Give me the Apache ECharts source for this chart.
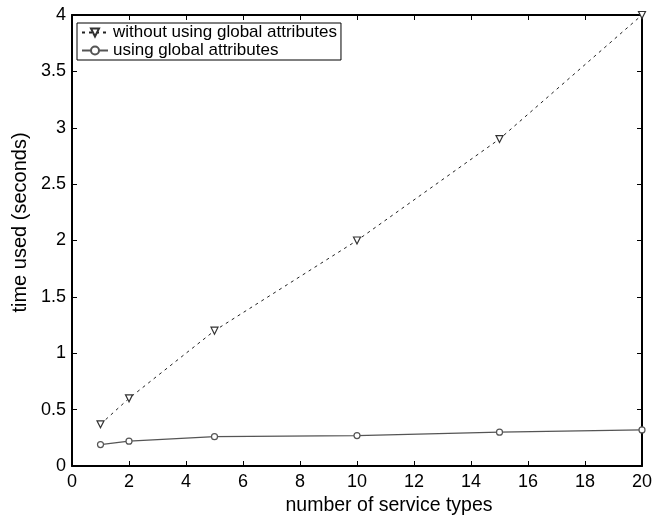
<!DOCTYPE html>
<html><head><meta charset="utf-8">
<script src="https://cdn.jsdelivr.net/npm/echarts@6/dist/echarts.min.js"></script>
<style>html,body{margin:0;padding:0;background:#fff}#c{width:663px;height:517px}</style>
</head><body><div id="c"></div>
<script>
const xValues = [1, 2, 5, 10, 15, 20];
const withoutGlobal = [0.37, 0.60, 1.20, 2.00, 2.90, 4.00];
const withGlobal = [0.19, 0.22, 0.26, 0.27, 0.30, 0.32];
const seriesNames = ['without using global attributes', 'using global attributes'];
const xAxisName = 'number of service types';
const yAxisName = 'time used (seconds)';

const font = 'Liberation Sans, Arial, sans-serif';
const chart = echarts.init(document.getElementById('c'));
const axisCommon = {
  axisLine: {show: true, onZero: false, lineStyle: {color: '#000', width: 2}},
  axisTick: {show: true, inside: true, length: 5, lineStyle: {color: '#000', width: 1}},
  splitLine: {show: false},
  axisLabel: {color: '#000', fontSize: 18, fontFamily: font}
};
chart.setOption({
  animation: false,
  backgroundColor: '#fff',
  grid: {left: 72, right: 21, top: 15, bottom: 51, containLabel: false, outerBoundsMode: 'none'},
  legend: {
    orient: 'vertical', left: 77, top: 23,
    backgroundColor: '#fff', borderColor: '#000', borderWidth: 1,
    padding: [1, 4, 1, 4], itemGap: 1, itemWidth: 26, itemHeight: 10,
    textStyle: {color: '#000', fontSize: 17, fontFamily: font},
    data: seriesNames
  },
  xAxis: [
    Object.assign({type: 'value', min: 0, max: 20, interval: 2, name: xAxisName,
      nameLocation: 'middle', nameGap: 29,
      nameTextStyle: {color: '#000', fontSize: 19.5, fontFamily: font, padding: [0, 0, 0, 64]}}, axisCommon,
      {axisLabel: {color: '#000', fontSize: 18, fontFamily: font, margin: 7}}),
    Object.assign({type: 'value', min: 0, max: 20, interval: 2, position: 'top'}, axisCommon, {axisLabel: {show: false}})
  ],
  yAxis: [
    Object.assign({type: 'value', min: 0, max: 4, interval: 0.5, name: yAxisName,
      nameLocation: 'middle', nameGap: 40,
      nameTextStyle: {color: '#000', fontSize: 20, fontFamily: font, padding: [0, 0, 0, 36]}}, axisCommon,
      {axisLabel: {color: '#000', fontSize: 18, fontFamily: font, margin: 6}}),
    Object.assign({type: 'value', min: 0, max: 4, interval: 0.5, position: 'right'}, axisCommon, {axisLabel: {show: false}})
  ],
  series: [
    {
      name: seriesNames[0], type: 'line',
      data: xValues.map((x, i) => [x, withoutGlobal[i]]),
      symbol: 'triangle', symbolRotate: 180, symbolSize: 7, showAllSymbol: true,
      lineStyle: {color: '#222', width: 1, type: [3, 4]},
      itemStyle: {color: '#fff', borderColor: '#333', borderWidth: 1.2}
    },
    {
      name: seriesNames[1], type: 'line',
      data: xValues.map((x, i) => [x, withGlobal[i]]),
      symbol: 'circle', symbolSize: 6, showAllSymbol: true,
      lineStyle: {color: '#555', width: 1.2},
      itemStyle: {color: '#fff', borderColor: '#555', borderWidth: 1.2}
    }
  ]
});
</script></body></html>
